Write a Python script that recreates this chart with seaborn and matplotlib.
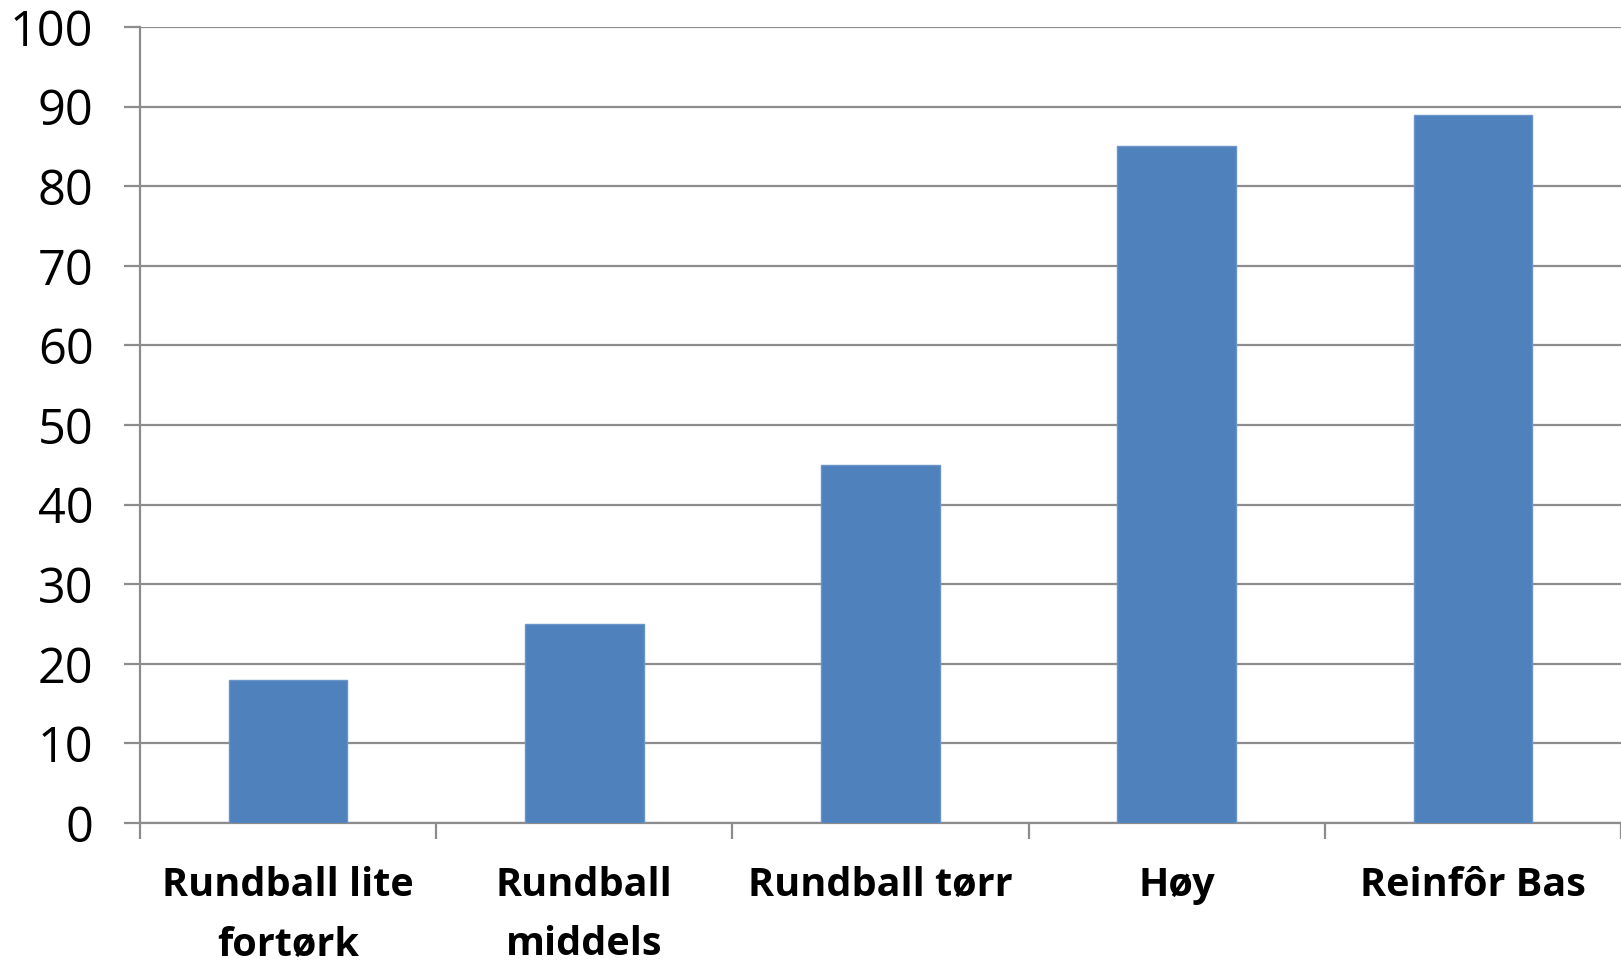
import matplotlib
matplotlib.use("Agg")
import matplotlib.pyplot as plt
import seaborn as sns
import pandas as pd

categories = ["Rundball lite\nfortørk", "Rundball\nmiddels", "Rundball tørr", "Høy", "Reinfôr Bas"]
values = [18, 25, 45, 85, 89]
y_ticks = [0, 10, 20, 30, 40, 50, 60, 70, 80, 90, 100]

sns.set_theme(style="white")
plt.rcParams["font.family"] = ["Open Sans", "DejaVu Sans"]

df = pd.DataFrame({"kategori": categories, "verdi": values})

fig = plt.figure(figsize=(16.21, 9.64), dpi=100)
ax = fig.add_axes([0.0864, 0.1463, 0.9136, 0.8257])

sns.barplot(data=df, x="kategori", y="verdi", color="#4F81BD", saturation=1,
            width=0.4, edgecolor="#6A95C8", linewidth=1, ax=ax, zorder=3)

ax.set_ylim(0, 100)
ax.set_xlim(-0.5, len(categories) - 0.5)
ax.set_yticks(y_ticks)
ax.set_yticklabels([str(t) for t in y_ticks], fontsize=35, color="black")
ax.set_xticks(range(len(categories)))
ax.set_xticklabels(categories, fontsize=28.5, fontweight="bold", color="black",
                   linespacing=1.68, va="top")

ax.yaxis.grid(True, color="#8C8C8C", linewidth=1.6, zorder=0)
ax.xaxis.grid(False)
ax.set_xlabel("")
ax.set_ylabel("")

for side in ["top", "right"]:
    ax.spines[side].set_visible(False)
for side in ["left", "bottom"]:
    ax.spines[side].set_color("#8C8C8C")
    ax.spines[side].set_linewidth(1.6)

# Category boundary ticks below the axis
ax.set_xticks([i - 0.5 for i in range(len(categories) + 1)], minor=True)
ax.tick_params(axis="x", which="minor", bottom=True, length=11.5, width=1.6,
               color="#8C8C8C", direction="out")
ax.tick_params(axis="x", which="major", bottom=False, length=0, pad=31)
ax.tick_params(axis="y", left=True, length=11.5, width=1.6, color="#8C8C8C",
               direction="out", pad=22)

fig.savefig("out.png", dpi=100, facecolor="white")
